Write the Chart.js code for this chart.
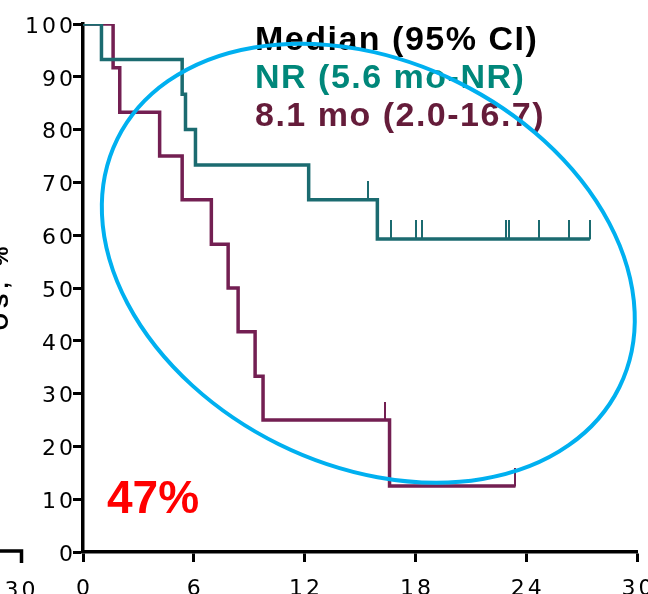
<!DOCTYPE html>
<html>
<head>
<meta charset="utf-8">
<script src="https://cdn.jsdelivr.net/npm/chart.js@4"></script>
<style>
  html, body { margin: 0; padding: 0; background: #fff; }
  canvas { display: block; }
</style>
</head>
<body>
<canvas id="os-chart" width="648" height="594"></canvas>
<script>
// tick labels
const xTicks = [0, 6, 12, 18, 24, 30];
const yTicks = [0, 10, 20, 30, 40, 50, 60, 70, 80, 90, 100];

// NR arm (teal): event times (months) and survival after each step
const nrTimes = [0, 1.0, 5.37, 5.55, 6.09, 12.22, 15.94, 27.45];
const nrSurvival = [100, 93.3, 86.7, 80.0, 73.3, 66.7, 59.3, 59.3];
const nrCensorTimes = [15.46, 16.68, 18.05, 18.34, 22.9, 23.08, 24.67, 26.33, 27.45];
const nrCensorSurvival = [66.7, 59.3, 59.3, 59.3, 59.3, 59.3, 59.3, 59.3, 59.3];

// 8.1 mo arm (purple)
const moTimes = [0, 1.63, 1.99, 4.15, 5.37, 6.95, 7.86, 8.40, 9.32, 9.75, 16.6, 23.42];
const moSurvival = [100, 91.7, 83.3, 75.0, 66.7, 58.3, 50.0, 41.7, 33.3, 25.0, 12.5, 12.5];
const moCensorTimes = [16.35, 23.42];
const moCensorSurvival = [25.0, 12.5];

const legendLines = ['Median (95% CI)', 'NR (5.6 mo-NR)', '8.1 mo (2.0-16.7)'];
const highlightText = '47%';
const yTitle = 'OS, %';
const neighbourTick = '30';

const TEAL = '#1b6b70';
const PURPLE = '#731f52';
const TICK_FAMILY = '"DejaVu Sans", "Liberation Sans", sans-serif';
const TICK_SIZE = 22;
const TICK_SPACING = 3;

function toPoints(xs, ys) {
    return xs.map((t, i) => ({ x: t, y: ys[i] }));
}

// censor mark: a short vertical stroke standing on the point
function censorMark(color) {
    const c = document.createElement('canvas');
    c.width = 2;
    c.height = 37;
    const g = c.getContext('2d');
    g.fillStyle = color;
    g.fillRect(0, 0, 2, 19);
    return c;
}

const overlay = {
    id: 'overlay',
    beforeDraw(chart) {
        chart.ctx.letterSpacing = TICK_SPACING + 'px';
    },
    afterDraw(chart) {
        const { ctx, scales: { x, y } } = chart;
        ctx.save();

        // bits of the neighbouring panel on the left
        ctx.strokeStyle = '#000';
        ctx.lineWidth = 3.5;
        ctx.beginPath();
        ctx.moveTo(0, 551);
        ctx.lineTo(21.5, 551);
        ctx.lineTo(21.5, 563);
        ctx.stroke();
        ctx.fillStyle = '#000';
        ctx.font = TICK_SIZE + 'px ' + TICK_FAMILY;
        ctx.letterSpacing = TICK_SPACING + 'px';
        ctx.textAlign = 'center';
        ctx.textBaseline = 'alphabetic';
        ctx.fillText(neighbourTick, 20 + TICK_SPACING / 2, 597);

        // rotated y title, cut by the left edge
        ctx.save();
        ctx.translate(8, 286);
        ctx.rotate(-Math.PI / 2);
        ctx.font = 'bold 22px "Liberation Sans", Arial, sans-serif';
        ctx.letterSpacing = '5px';
        ctx.textAlign = 'center';
        ctx.fillText(yTitle, 0, 0);
        ctx.restore();

        // legend text
        ctx.letterSpacing = '1.5px';
        ctx.textAlign = 'left';
        ctx.font = 'bold 34px "Liberation Sans", Arial, sans-serif';
        const legendColors = ['#000000', '#00877a', '#651c3a'];
        legendLines.forEach((line, i) => {
            ctx.fillStyle = legendColors[i];
            ctx.fillText(line, 255, 50 + i * 38);
        });

        ctx.letterSpacing = '0px';
        ctx.fillStyle = '#ff0000';
        ctx.font = 'bold 46px "Liberation Sans", Arial, sans-serif';
        ctx.fillText(highlightText, 107, 513);

        // highlight ellipse
        ctx.strokeStyle = '#00b0f0';
        ctx.lineWidth = 4;
        ctx.beginPath();
        ctx.ellipse(x.getPixelForValue(15.45), y.getPixelForValue(54.7), 280, 202,
            26.3 * Math.PI / 180, 0, Math.PI * 2);
        ctx.stroke();

        ctx.restore();
    }
};

const axisCommon = {
    type: 'linear',
    border: { display: true, color: '#000', width: 3.5 },
    grid: {
        drawOnChartArea: false,
        drawTicks: true,
        tickLength: 10,
        tickWidth: 3,
        tickColor: '#000'
    }
};

new Chart(document.getElementById('os-chart').getContext('2d'), {
    type: 'line',
    data: {
        datasets: [
            {
                label: 'NR',
                data: toPoints(nrTimes, nrSurvival),
                borderColor: TEAL,
                borderWidth: 3.5,
                stepped: 'before',
                pointRadius: 0,
                fill: false,
                borderJoinStyle: 'miter'
            },
            {
                label: 'NR censored',
                data: toPoints(nrCensorTimes, nrCensorSurvival),
                showLine: false,
                pointStyle: censorMark(TEAL),
                pointRadius: 10
            },
            {
                label: '8.1 mo',
                data: toPoints(moTimes, moSurvival),
                borderColor: PURPLE,
                borderWidth: 3.5,
                stepped: 'before',
                pointRadius: 0,
                fill: false,
                borderJoinStyle: 'miter'
            },
            {
                label: '8.1 mo censored',
                data: toPoints(moCensorTimes, moCensorSurvival),
                showLine: false,
                pointStyle: censorMark(PURPLE),
                pointRadius: 10
            }
        ]
    },
    options: {
        responsive: false,
        animation: false,
        devicePixelRatio: 1,
        layout: { padding: { top: 24, right: 8, left: 0, bottom: 0 } },
        plugins: {
            legend: { display: false },
            tooltip: { enabled: false }
        },
        scales: {
            x: {
                ...axisCommon,
                min: 0,
                max: 30,
                afterBuildTicks: scale => { scale.ticks = xTicks.map(v => ({ value: v })); },
                afterFit: scale => {
                    scale.height = 42;
                    scale.paddingLeft = 0;
                    scale.paddingRight = 0;
                },
                ticks: {
                    color: '#000',
                    font: { family: TICK_FAMILY, size: TICK_SIZE },
                    padding: 14,
                    labelOffset: TICK_SPACING / 2,
                    maxRotation: 0,
                    autoSkip: false
                }
            },
            y: {
                ...axisCommon,
                min: 0,
                max: 100,
                afterBuildTicks: scale => { scale.ticks = yTicks.map(v => ({ value: v })); },
                afterFit: scale => {
                    scale.width = 83;
                    scale.paddingTop = 0;
                    scale.paddingBottom = 0;
                },
                ticks: {
                    color: '#000',
                    font: { family: TICK_FAMILY, size: TICK_SIZE },
                    padding: -TICK_SPACING,
                    labelOffset: 3,
                    autoSkip: false
                }
            }
        }
    },
    plugins: [overlay]
});
</script>
</body>
</html>
